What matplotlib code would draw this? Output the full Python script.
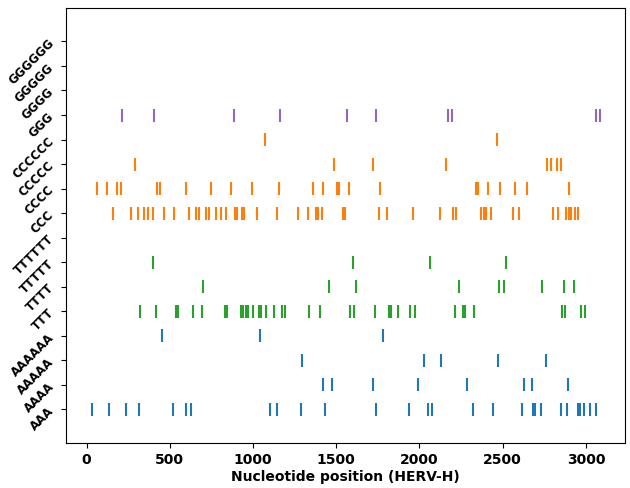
import matplotlib
matplotlib.use('Agg')
import matplotlib.pyplot as plt
import numpy as np

# motif labels, bottom row first
motifs = ['AAA', 'AAAA', 'AAAAA', 'AAAAAA',
          'TTT', 'TTTT', 'TTTTT', 'TTTTTT',
          'CCC', 'CCCC', 'CCCCC', 'CCCCCC',
          'GGG', 'GGGG', 'GGGGG', 'GGGGGG']

# positions of each motif along HERV-H
pos_AAA = [30, 132, 235, 313, 518, 596, 626, 1102, 1144, 1288, 1433, 1740,
           1939, 2053, 2077, 2324, 2444, 2619, 2681, 2693, 2733, 2848, 2884,
           2952, 2964, 2986, 3022, 3058]
pos_AAAA = [1421, 1475, 1722, 1993, 2288, 2631, 2679, 2890]
pos_AAAAA = [1294, 2029, 2131, 2474, 2763]
pos_AAAAAA = [452, 1042, 1782]

pos_TTT = [323, 415, 538, 550, 638, 692, 829, 841, 925, 937, 960, 972, 999,
           1036, 1048, 1078, 1126, 1174, 1192, 1337, 1403, 1583, 1607, 1734,
           1820, 1832, 1872, 1945, 1975, 2216, 2260, 2272, 2330, 2854, 2872,
           2968, 2992]
pos_TTTT = [698, 1455, 1620, 2240, 2480, 2510, 2739, 2866, 2926]
pos_TTTTT = [401, 1601, 2065, 2517]
pos_TTTTTT = []

pos_CCC = [157, 265, 307, 343, 367, 397, 464, 524, 614, 656, 674, 720, 733,
           777, 807, 837, 894, 906, 933, 945, 1023, 1144, 1270, 1331, 1380,
           1392, 1413, 1539, 1551, 1758, 1806, 1963, 2125, 2203, 2220, 2372,
           2388, 2400, 2432, 2559, 2601, 2800, 2830, 2878, 2900, 2912, 2937,
           2950]
pos_CCCC = [64, 125, 181, 205, 426, 444, 596, 747, 867, 993, 1156, 1361, 1421,
            1502, 1514, 1577, 1764, 2340, 2352, 2412, 2486, 2575, 2649, 2896]
pos_CCCCC = [293, 1485, 1722, 2161, 2769, 2788, 2824, 2848]
pos_CCCCCC = [1070, 2467]

pos_GGG = [211, 408, 883, 1162, 1564, 1738, 2173, 2197, 3058, 3082]
pos_GGGG = []
pos_GGGGG = []
pos_GGGGGG = []

positions = [pos_AAA, pos_AAAA, pos_AAAAA, pos_AAAAAA,
             pos_TTT, pos_TTTT, pos_TTTTT, pos_TTTTTT,
             pos_CCC, pos_CCCC, pos_CCCCC, pos_CCCCCC,
             pos_GGG, pos_GGGG, pos_GGGGG, pos_GGGGGG]

base_colors = {'A': 'tab:blue', 'T': 'tab:green', 'C': 'tab:orange', 'G': 'tab:purple'}
colors = [base_colors[m[0]] for m in motifs]

fig, ax = plt.subplots(figsize=(6.3, 4.88), dpi=100)
fig.subplots_adjust(left=0.105, right=0.992, top=0.984, bottom=0.092)

offsets = np.arange(len(motifs))
ax.eventplot(positions, lineoffsets=offsets, linelengths=0.53,
             colors=colors, linewidths=1.5)

ax.set_yticks(offsets)
ax.set_yticklabels(motifs, rotation=45, fontsize=8.5, fontweight='bold')
ax.set_ylim(-1.37, len(motifs) - 1 + 1.37)
ax.set_xticks([0, 500, 1000, 1500, 2000, 2500, 3000])
for lab in ax.get_xticklabels():
    lab.set_fontsize(10)
    lab.set_fontweight('bold')
ax.set_xlabel('Nucleotide position (HERV-H)', fontsize=10, fontweight='bold',
              labelpad=2)

plt.savefig('out.png')
